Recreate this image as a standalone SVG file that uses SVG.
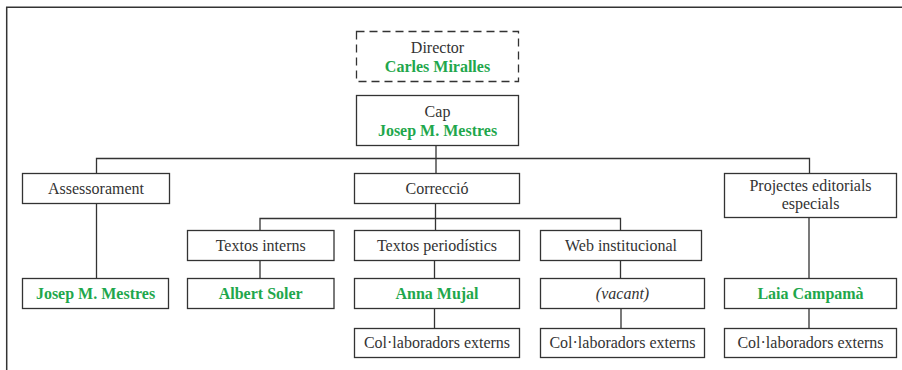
<svg xmlns="http://www.w3.org/2000/svg" width="902" height="370" viewBox="0 0 902 370">
<style>
.box{fill:#fff;stroke:#333;stroke-width:1.3}
.dash{fill:#fff;stroke:#333;stroke-width:1.3;stroke-dasharray:8 5}
text{font-family:'Liberation Serif','Times New Roman',serif;font-size:16px;text-anchor:middle}
.t{fill:#333}
.g{font-weight:bold;fill:#1fa74c}
.i{font-style:italic}
.c{stroke:#333;stroke-width:1.3;fill:none}
</style>
<rect width="902" height="370" fill="#fff"/>
<path d="M6.7 370 V7.3 H902" fill="none" stroke="#333" stroke-width="1.5"/>
<g id="connectors" class="c">
<path d="M436 145.5 V158.5 M96.5 173.5 V158.5 H809.5 V173.5 M436 158.5 V173.5"/>
<path d="M96.5 203.5 V278.5"/>
<path d="M435.5 203.5 V230.5 M260 230.5 V218.5 H620.5 V230.5"/>
<path d="M260 260.5 V278.5 M434.5 260.5 V278.5 M620.5 260.5 V278.5"/>
<path d="M434.5 308.5 V328.5 M621 308.5 V328.5"/>
<path d="M809 217.5 V278.5 M809 308.5 V328.5"/>
</g>
<g id="director"><rect class="dash" x="356.5" y="31.5" width="162" height="50"/><text class="t" x="437.5" y="53">Director</text><text class="g" x="437.5" y="72">Carles Miralles</text></g>
<g id="cap"><rect class="box" x="356.5" y="95.5" width="162" height="50"/><text class="t" x="437.5" y="117">Cap</text><text class="g" x="437.5" y="136">Josep M. Mestres</text></g>
<g id="assessorament"><rect class="box" x="22.5" y="173.5" width="147" height="30"/><text class="t" x="96" y="193.5">Assessorament</text></g>
<g id="correccio"><rect class="box" x="354.5" y="173.5" width="165" height="30"/><text class="t" x="437" y="193.5">Correcció</text></g>
<g id="projectes"><rect class="box" x="724.5" y="173.5" width="172" height="44"/><text class="t" x="810.5" y="191">Projectes editorials</text><text class="t" x="810.5" y="209">especials</text></g>
<g id="textos-interns"><rect class="box" x="187.5" y="230.5" width="146.5" height="30"/><text class="t" x="260.7" y="250.5">Textos interns</text></g>
<g id="textos-periodistics"><rect class="box" x="354.5" y="230.5" width="165" height="30"/><text class="t" x="437" y="250.5">Textos periodístics</text></g>
<g id="web"><rect class="box" x="540.5" y="230.5" width="161" height="30"/><text class="t" x="621" y="250.5">Web institucional</text></g>
<g id="josep"><rect class="box" x="22.5" y="278.5" width="146" height="30"/><text class="g" x="95.5" y="299">Josep M. Mestres</text></g>
<g id="albert"><rect class="box" x="187.5" y="278.5" width="146.5" height="30"/><text class="g" x="260.7" y="299">Albert Soler</text></g>
<g id="anna"><rect class="box" x="354.5" y="278.5" width="165" height="30"/><text class="g" x="437" y="299">Anna Mujal</text></g>
<g id="vacant"><rect class="box" x="540.5" y="278.5" width="164" height="30"/><text class="t i" x="622.5" y="299">(vacant)</text></g>
<g id="laia"><rect class="box" x="724.5" y="278.5" width="172" height="30"/><text class="g" x="810.5" y="299">Laia Campamà</text></g>
<g id="col-anna"><rect class="box" x="354.5" y="328.5" width="165" height="29"/><text class="t" x="437" y="348">Col·laboradors externs</text></g>
<g id="col-vacant"><rect class="box" x="540.5" y="328.5" width="164" height="29"/><text class="t" x="622.5" y="348">Col·laboradors externs</text></g>
<g id="col-laia"><rect class="box" x="724.5" y="328.5" width="172" height="29"/><text class="t" x="810.5" y="348">Col·laboradors externs</text></g>
</svg>
